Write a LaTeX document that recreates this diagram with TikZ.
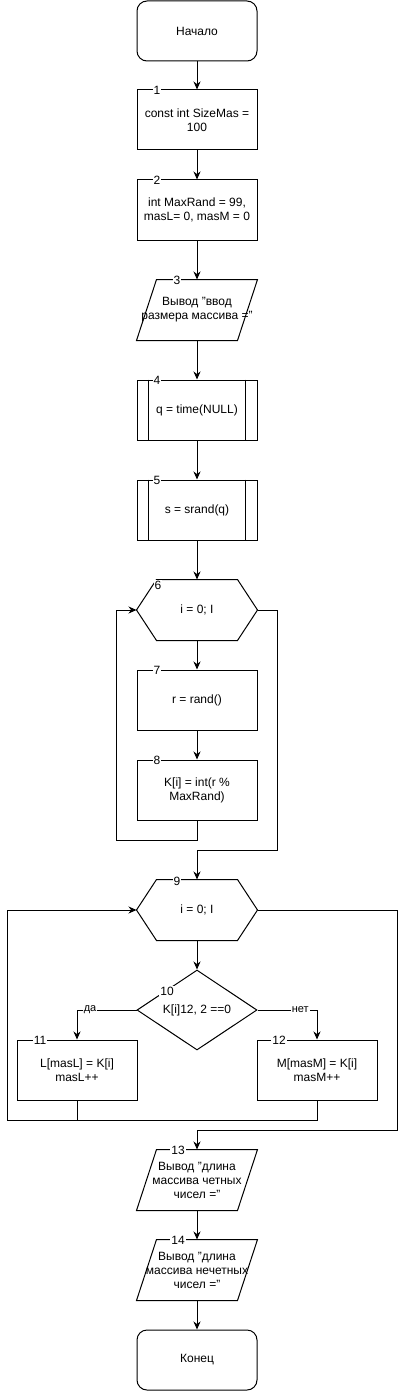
\documentclass[tikz,border=0pt]{standalone}
\usepackage{fontspec}
\setmainfont{Liberation Sans}
\usetikzlibrary{shapes.geometric, arrows.meta}

\begin{document}
\begin{tikzpicture}[x=1pt, y=-1pt, line width=1pt,
    every node/.style={font=\fontsize{12}{14}\selectfont},
    procbox/.style={draw, minimum width=120pt, minimum height=60pt,
      inner sep=0pt, align=center},
    termbox/.style={procbox, rounded corners=10pt},
    textbox/.style={minimum width=120pt, minimum height=60pt,
      inner sep=0pt, align=center},
    ifbox/.style={draw, diamond, aspect=1.5, minimum width=120pt,
      minimum height=80pt, inner sep=0pt},
    numlbl/.style={fill=white, inner sep=1pt},
    edgelbl/.style={fill=white, inner sep=1pt, font=\fontsize{11}{13}\selectfont},
    flow/.style={-{Stealth[length=8pt, width=7pt]}}]
    \useasboundingbox (0,0) rectangle (406,1391);

    % blocks
    \node[termbox] (start) at (197,31) {Начало};
    \node[procbox] (n1) at (197,120) {const int SizeMas =\\100};
    \node[procbox] (n2) at (197,210) {int MaxRand = 99,\\masL= 0, masM = 0};
    \node[textbox] (n3) at (197,310) {Вывод "ввод\\размера массива ="};
    \node[procbox] (n4) at (197,410) {q = time(NULL)};
    \node[procbox] (n5) at (197,510) {s = srand(q)};
    \node[textbox] (n6) at (197,610) {i = 0; I};
    \node[procbox] (n7) at (197,700) {r = rand()};
    \node[procbox] (n8) at (197,790) {K[i] = int(r \%\\MaxRand)};
    \node[textbox] (n9) at (197,910) {i = 0; I};
    \node[ifbox] (n10) at (197,1010) {K[i]12, 2 ==0};
    \node[procbox] (n11) at (77,1070) {L[masL] = K[i]\\masL++};
    \node[procbox] (n12) at (317,1070) {M[masM] = K[i]\\masM++};
    \node[textbox] (n13) at (197,1180) {Вывод "длина\\массива четных\\чисел ="};
    \node[textbox] (n14) at (197,1270) {Вывод "длина\\массива нечетных\\чисел ="};
    \node[termbox] (stop) at (197,1360) {Конец};

    % outlines
    \foreach \p in {n3, n13, n14}
      \draw (\p.south west) -- ([xshift=20pt]\p.north west) -- (\p.north east)
        -- ([xshift=-20pt]\p.south east) -- cycle;
    \foreach \p in {n6, n9}
      \draw (\p.west) -- ([xshift=20pt]\p.north west) -- ([xshift=-20pt]\p.north east)
        -- (\p.east) -- ([xshift=-20pt]\p.south east) -- ([xshift=20pt]\p.south west) -- cycle;
    \foreach \p in {n4, n5} {
      \draw ([xshift=12pt]\p.north west) -- ([xshift=12pt]\p.south west);
      \draw ([xshift=-12pt]\p.north east) -- ([xshift=-12pt]\p.south east);
    }

    % connectors
    \draw[flow] (start) -- (n1);
    \draw[flow] (n1) -- (n2);
    \draw[flow] (n2) -- (n3);
    \draw[flow] (n3) -- (n4);
    \draw[flow] (n4) -- (n5);
    \draw[flow] (n5) -- (n6);
    \draw[flow] (n6) -- (n7);
    \draw[flow] (n7) -- (n8);
    \draw[flow] (n8.south) -- ++(0,20) -| ([xshift=-20pt]n6.west) -- (n6.west);
    \coordinate (j1) at (197,850);
    \draw[flow] (n6.east) -- ++(20,0) |- (j1) -- (n9.north);
    \draw[flow] (n9) -- (n10);
    \draw[flow] (n10.west) -| node[edgelbl, pos=0.39] (yes) {да} (n11.north);
    \draw[flow] (n10.east) -| node[edgelbl, pos=0.36] (no) {нет} (n12.north);
    \coordinate (m2) at (7,1120);
    \draw (n11.south) |- (m2);
    \draw[flow] (n12.south) |- (m2) |- (n9.west);
    \coordinate (j2) at (197,1130);
    \draw[flow] (n9.east) -- ++(140,0) |- (j2) -- (n13.north);
    \draw[flow] (n13) -- (n14);
    \draw[flow] (n14) -- (stop);

    % numbers
    \node[numlbl] (l1) at (157,90) {1};
    \node[numlbl] (l2) at (157,180) {2};
    \node[numlbl] (l3) at (177,280) {3};
    \node[numlbl] (l4) at (157,380) {4};
    \node[numlbl] (l5) at (157,480) {5};
    \node[numlbl] (l6) at (158,585) {6};
    \node[numlbl] (l7) at (157,670) {7};
    \node[numlbl] (l8) at (157,760) {8};
    \node[numlbl] (l9) at (177,881) {9};
    \node[numlbl] (l10) at (167,991) {10};
    \node[numlbl] (l11) at (40,1040) {11};
    \node[numlbl] (l12) at (279,1040) {12};
    \node[numlbl] (l13) at (178,1150) {13};
    \node[numlbl] (l14) at (178,1240) {14};
\end{tikzpicture}
\end{document}
